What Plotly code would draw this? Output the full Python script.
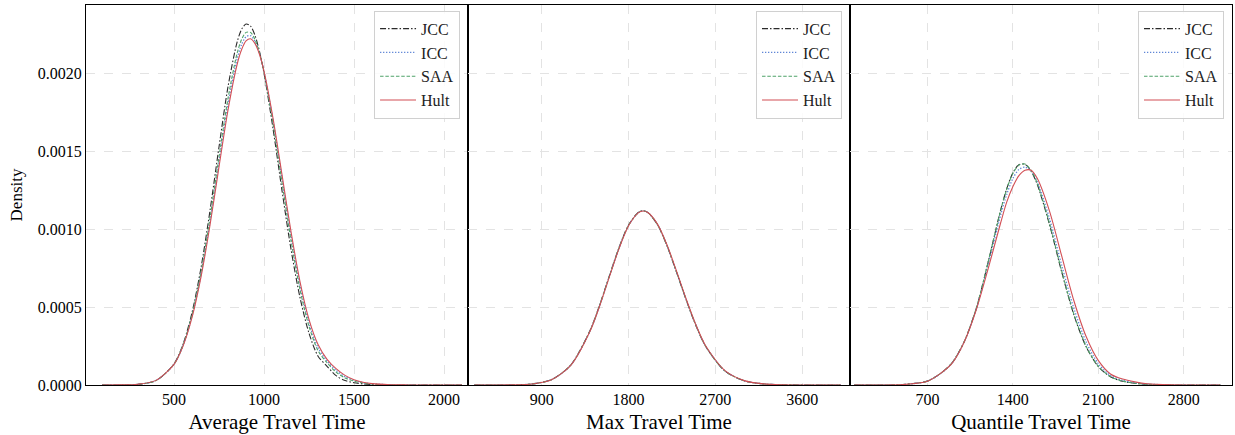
import plotly.graph_objects as go
from plotly.subplots import make_subplots

# ---- density curves read per panel (x grid + density per method) ----
methods = ["JCC", "ICC", "SAA", "Hult"]

# Average Travel Time
avg_x = [100, 200, 300, 400, 500, 550, 600, 650, 700, 750, 800, 850, 875, 900, 925,
         950, 975, 1000, 1050, 1100, 1150, 1200, 1250, 1300, 1350, 1400, 1450, 1500,
         1550, 1600, 1700, 1800, 1900, 2000, 2100]
avg_jcc = [0, 4.3e-7, 4.1e-6, 2.82e-5, 1.36e-4, 2.62e-4, 4.65e-4, 7.54e-4, 1.122e-3,
           1.531e-3, 1.918e-3, 2.202e-3, 2.285e-3, 2.320e-3, 2.306e-3, 2.246e-3,
           2.143e-3, 2.003e-3, 1.647e-3, 1.248e-3, 8.71e-4, 5.61e-4, 3.32e-4, 1.85e-4,
           1.20e-4, 6.0e-5, 2.9e-5, 1.5e-5, 7e-6, 3e-6, 5e-7, 0, 0, 0, 0]
avg_icc = [0, 5.5e-7, 4.6e-6, 2.93e-5, 1.335e-4, 2.53e-4, 4.42e-4, 7.10e-4, 1.050e-3,
           1.435e-3, 1.805e-3, 2.094e-3, 2.187e-3, 2.238e-3, 2.245e-3, 2.207e-3,
           2.129e-3, 2.013e-3, 1.697e-3, 1.325e-3, 9.56e-4, 6.38e-4, 3.98e-4, 2.40e-4,
           1.54e-4, 9.4e-5, 5.4e-5, 3.0e-5, 1.5e-5, 7.5e-6, 1.6e-6, 3e-7, 0, 0, 0]
avg_saa = [0, 5e-7, 4.5e-6, 2.9e-5, 1.34e-4, 2.56e-4, 4.50e-4, 7.25e-4, 1.075e-3,
           1.467e-3, 1.843e-3, 2.130e-3, 2.220e-3, 2.266e-3, 2.266e-3, 2.220e-3,
           2.134e-3, 2.010e-3, 1.680e-3, 1.300e-3, 9.28e-4, 6.12e-4, 3.76e-4, 2.21e-4,
           1.43e-4, 8.3e-5, 4.5e-5, 2.5e-5, 1.25e-5, 6e-6, 1.2e-6, 2e-7, 0, 0, 0]
avg_hult = [0, 6e-7, 4.8e-6, 2.97e-5, 1.33e-4, 2.50e-4, 4.34e-4, 6.95e-4, 1.028e-3,
            1.403e-3, 1.768e-3, 2.058e-3, 2.154e-3, 2.211e-3, 2.225e-3, 2.194e-3,
            2.124e-3, 2.016e-3, 1.714e-3, 1.350e-3, 9.84e-4, 6.63e-4, 4.20e-4, 2.60e-4,
            1.65e-4, 1.05e-4, 6.2e-5, 3.4e-5, 1.8e-5, 9e-6, 2e-6, 4e-7, 0, 0, 0]

# Max Travel Time
max_x = [200, 400, 600, 800, 1000, 1200, 1400, 1500, 1600, 1700, 1800, 1900, 1950,
         2000, 2100, 2200, 2300, 2400, 2500, 2600, 2800, 3000, 3200, 3400, 3600,
         3800, 4000]
max_jcc = [0, 1.1e-7, 1.0e-6, 6.9e-6, 3.45e-5, 1.28e-4, 3.50e-4, 5.14e-4, 7.00e-4,
           8.82e-4, 1.028e-3, 1.109e-3, 1.120e-3, 1.108e-3, 1.030e-3, 8.92e-4,
           7.20e-4, 5.42e-4, 3.79e-4, 2.47e-4, 8.9e-5, 2.7e-5, 6.6e-6, 1.4e-6,
           3e-7, 0, 0]
max_icc = [0, 1.0e-7, 9.8e-7, 6.8e-6, 3.42e-5, 1.27e-4, 3.47e-4, 5.11e-4, 6.96e-4,
           8.78e-4, 1.025e-3, 1.107e-3, 1.119e-3, 1.109e-3, 1.032e-3, 8.95e-4,
           7.24e-4, 5.45e-4, 3.82e-4, 2.49e-4, 9.0e-5, 2.75e-5, 6.8e-6, 1.45e-6,
           3e-7, 0, 0]
max_saa = [0, 1.1e-7, 1.0e-6, 6.8e-6, 3.43e-5, 1.275e-4, 3.48e-4, 5.12e-4, 6.98e-4,
           8.80e-4, 1.026e-3, 1.108e-3, 1.119e-3, 1.108e-3, 1.031e-3, 8.94e-4,
           7.22e-4, 5.44e-4, 3.81e-4, 2.48e-4, 8.95e-5, 2.72e-5, 6.7e-6, 1.4e-6,
           3e-7, 0, 0]
max_hult = [0, 1.0e-7, 9.7e-7, 6.7e-6, 3.39e-5, 1.26e-4, 3.45e-4, 5.08e-4, 6.93e-4,
            8.75e-4, 1.023e-3, 1.106e-3, 1.118e-3, 1.109e-3, 1.034e-3, 8.98e-4,
            7.27e-4, 5.48e-4, 3.84e-4, 2.51e-4, 9.2e-5, 2.8e-5, 7e-6, 1.5e-6,
            3e-7, 0, 0]

# Quantile Travel Time
qnt_x = [100, 300, 500, 700, 800, 900, 1000, 1100, 1200, 1300, 1350, 1400, 1450,
         1500, 1550, 1600, 1700, 1800, 1900, 2000, 2100, 2200, 2300, 2400, 2500,
         2700, 2900, 3100]
qnt_jcc = [0, 2e-7, 2.8e-6, 2.5e-5, 7.0e-5, 1.40e-4, 2.75e-4, 4.90e-4, 7.96e-4,
           1.123e-3, 1.261e-3, 1.362e-3, 1.416e-3, 1.418e-3, 1.374e-3, 1.290e-3,
           1.033e-3, 7.28e-4, 4.52e-4, 2.47e-4, 1.19e-4, 5.3e-5, 2.4e-5, 1.1e-5,
           4.5e-6, 6e-7, 0, 0]
qnt_icc = [0, 2e-7, 2.7e-6, 2.45e-5, 6.9e-5, 1.38e-4, 2.74e-4, 4.86e-4, 7.80e-4,
           1.090e-3, 1.224e-3, 1.326e-3, 1.385e-3, 1.400e-3, 1.376e-3, 1.306e-3,
           1.071e-3, 7.72e-4, 4.93e-4, 2.78e-4, 1.38e-4, 6.1e-5, 3.0e-5, 1.5e-5,
           6e-6, 9e-7, 0, 0]
qnt_saa = [0, 2e-7, 2.8e-6, 2.5e-5, 7.0e-5, 1.40e-4, 2.76e-4, 4.92e-4, 7.98e-4,
           1.121e-3, 1.258e-3, 1.359e-3, 1.413e-3, 1.420e-3, 1.380e-3, 1.296e-3,
           1.040e-3, 7.34e-4, 4.56e-4, 2.50e-4, 1.21e-4, 5.4e-5, 2.5e-5, 1.15e-5,
           4.6e-6, 6e-7, 0, 0]
qnt_hult = [0, 1.7e-7, 2.6e-6, 2.41e-5, 7.0e-5, 1.37e-4, 2.73e-4, 4.82e-4, 7.53e-4,
            1.041e-3, 1.175e-3, 1.274e-3, 1.345e-3, 1.380e-3, 1.380e-3, 1.328e-3,
            1.119e-3, 8.31e-4, 5.43e-4, 3.13e-4, 1.58e-4, 7.1e-5, 3.8e-5, 2.0e-5,
            8e-6, 1.2e-6, 1e-7, 0]

panel_titles = ["Average Travel Time", "Max Travel Time", "Quantile Travel Time"]
panel_ticks = [[500, 1000, 1500, 2000], [900, 1800, 2700, 3600], [700, 1400, 2100, 2800]]
panel_ranges = [[11, 2133], [135, 4096], [66, 3196]]
y_ticks = [0.0, 0.0005, 0.0010, 0.0015, 0.0020]
y_max = 0.002442

panels = [
    (avg_x, [avg_jcc, avg_icc, avg_saa, avg_hult]),
    (max_x, [max_jcc, max_icc, max_saa, max_hult]),
    (qnt_x, [qnt_jcc, qnt_icc, qnt_saa, qnt_hult]),
]

styles = {
    "JCC": dict(color="#2b2b2b", dash="6px,2px,1.5px,2px", width=1.1),
    "ICC": dict(color="#5f86d6", dash="1.3px,1.7px", width=1.3),
    "SAA": dict(color="#4fa36a", dash="3.5px,1.8px", width=1.1),
    "Hult": dict(color="#d24f55", dash="solid", width=1.1),
}

SERIF = "Liberation Serif, Times New Roman, serif"

fig = make_subplots(rows=1, cols=3, shared_yaxes=True, horizontal_spacing=0)

legend_names = ["legend", "legend2", "legend3"]
legend_x = [0.3264, 0.6597, 0.993]

for i, (xs, ys_list) in enumerate(panels):
    for name, ys in zip(methods, ys_list):
        st = styles[name]
        fig.add_trace(
            go.Scatter(
                x=xs, y=ys, mode="lines", name=name,
                line=dict(color=st["color"], dash=st["dash"], width=st["width"],
                          shape="spline", smoothing=0.8),
                legend=legend_names[i],
                showlegend=True,
            ),
            row=1, col=i + 1,
        )

axis_common = dict(
    showline=True, linecolor="black", linewidth=1.3, mirror=True,
    showgrid=True, gridcolor="#e3e3e3", griddash="dash", gridwidth=1,
    zeroline=False, ticks="",
    tickfont=dict(family=SERIF, size=16, color="black"),
)

for i in range(3):
    fig.update_xaxes(
        range=panel_ranges[i], tickvals=panel_ticks[i],
        title=dict(text=panel_titles[i], font=dict(family=SERIF, size=21, color="black"),
                   standoff=6),
        row=1, col=i + 1, **axis_common,
    )
    fig.update_yaxes(
        range=[0, y_max], tickvals=y_ticks, tickformat=".4f",
        showticklabels=(i == 0),
        row=1, col=i + 1, **axis_common,
    )

fig.update_yaxes(title=dict(text="Density", font=dict(family=SERIF, size=17, color="black"),
                            standoff=10), row=1, col=1)

legend_style = dict(
    xanchor="right", yanchor="top", y=0.985,
    bgcolor="rgba(255,255,255,0.85)", bordercolor="#d0d0d0", borderwidth=1,
    font=dict(family=SERIF, size=16, color="#222"),
    tracegroupgap=0, itemwidth=36,
)
fig.update_layout(
    width=1235, height=435,
    margin=dict(l=86, r=3, t=5, b=50),
    paper_bgcolor="white", plot_bgcolor="white",
    legend=dict(x=legend_x[0], **legend_style),
    legend2=dict(x=legend_x[1], **legend_style),
    legend3=dict(x=legend_x[2], **legend_style),
)

fig.write_html("out.html")
